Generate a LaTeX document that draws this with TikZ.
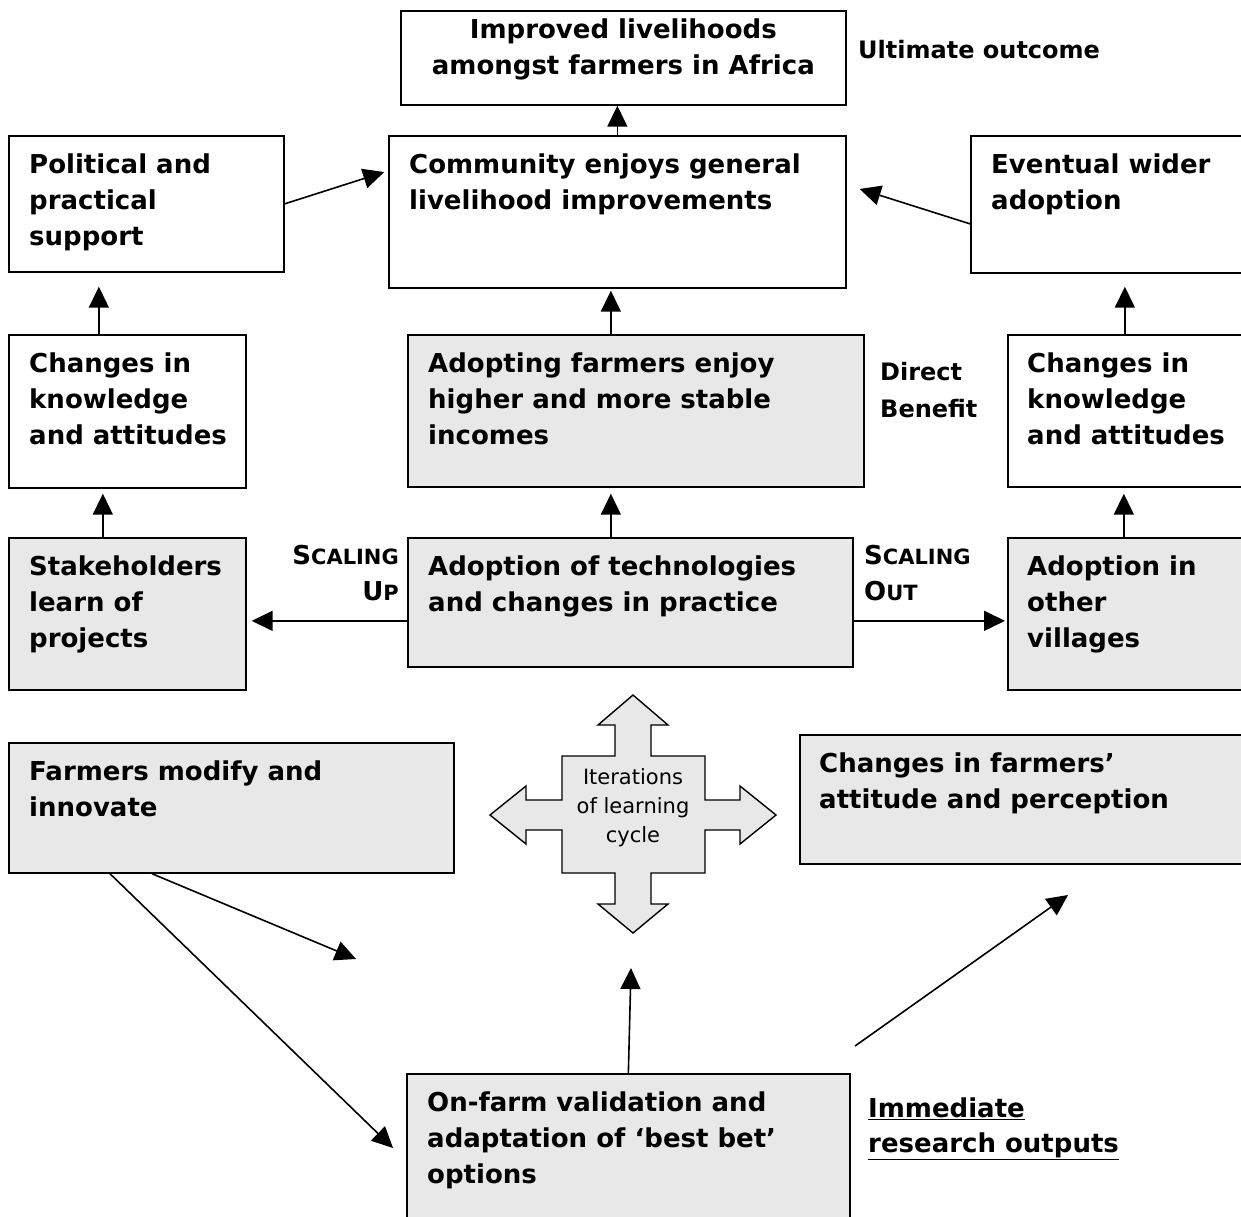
\documentclass[tikz,border=0pt]{standalone}
\usepackage{fontspec}
\setmainfont{DejaVu Sans}
\usetikzlibrary{arrows.meta}
\definecolor{boxgray}{RGB}{232,232,232}
\newcommand\capsmall[2]{#1{\fontsize{21}{36}\selectfont#2}}

\begin{document}
\begin{tikzpicture}[
	x = 1pt, y = -1pt,
	box/.style = {draw, line width=1.7pt, anchor=north west, inner sep=0pt},
	grey box/.style = {box, fill=boxgray},
	txt/.style = {anchor=north west, align=left, inner xsep=21pt, inner ysep=18.3pt,
		font=\fontsize{26}{36}\selectfont\bfseries, execute at begin node=\strut},
	note/.style = {anchor=north west, align=left, inner sep=0pt,
		font=\fontsize{24}{37}\selectfont\bfseries, execute at begin node=\strut},
	arr/.style = {-{Triangle[length=21pt, width=20pt]}, line width=1.6pt}
	]
	\path[use as bounding box, fill=white] (0,0) rectangle (1241,1216);
	\clip (0,0) rectangle (1241,1216);

	\node[box, minimum width=445pt, minimum height=94pt] (top) at (400,10) {};
	\node[txt, anchor=north, align=center, inner ysep=9pt] (top-txt) at (top.north)
		{Improved livelihoods\\amongst farmers in Africa};
	\node[note] (ult) at (858,32) {Ultimate outcome};

	\node[box, minimum width=275pt, minimum height=136pt] (pol) at (8,135) {};
	\node[txt] (pol-txt) at (pol.north west) {Political and\\practical\\support};
	\node[box, minimum width=457pt, minimum height=152pt] (comm) at (388,135) {};
	\node[txt] (comm-txt) at (comm.north west) {Community enjoys general\\livelihood improvements};
	\node[box, minimum width=280pt, minimum height=137pt] (ev) at (970,135) {};
	\node[txt] (ev-txt) at (ev.north west) {Eventual wider\\adoption};

	\node[box, minimum width=237pt, minimum height=153pt] (chgl) at (8,334) {};
	\node[txt] (chgl-txt) at (chgl.north west) {Changes in\\knowledge\\and attitudes};
	\node[grey box, minimum width=456pt, minimum height=152pt] (adopt) at (407,334) {};
	\node[txt] (adopt-txt) at (adopt.north west) {Adopting farmers enjoy\\higher and more stable\\incomes};
	\node[note] (direct) at (880,362) {Direct\\Benefit};
	\node[box, minimum width=243pt, minimum height=152pt] (chgr) at (1007,334) {};
	\node[txt, inner xsep=20pt] (chgr-txt) at (chgr.north west) {Changes in\\knowledge\\and attitudes};

	\node[grey box, minimum width=237pt, minimum height=152pt] (stake) at (8,537) {};
	\node[txt] (stake-txt) at (stake.north west) {Stakeholders\\learn of\\projects};
	\node[grey box, minimum width=445pt, minimum height=129pt] (adtech) at (407,537) {};
	\node[txt] (adtech-txt) at (adtech.north west) {Adoption of technologies\\and changes in practice};
	\node[grey box, minimum width=243pt, minimum height=152pt] (adoth) at (1007,537) {};
	\node[txt, inner xsep=20pt] (adoth-txt) at (adoth.north west) {Adoption in\\other\\villages};
	\node[note, align=right, anchor=north east, font=\fontsize{26}{36}\selectfont\bfseries] (scup)
		at (399,545) {\capsmall{S}{CALING}\\\capsmall{U}{P}};
	\node[note, font=\fontsize{26}{36}\selectfont\bfseries] (scout)
		at (864,545) {\capsmall{S}{CALING}\\\capsmall{O}{UT}};

	\node[grey box, minimum width=445pt, minimum height=130pt] (farm) at (8,742) {};
	\node[txt] (farm-txt) at (farm.north west) {Farmers modify and\\innovate};
	\node[grey box, minimum width=451pt, minimum height=129pt] (chgf) at (799,734) {};
	\node[txt, inner xsep=20pt] (chgf-txt) at (chgf.north west) {Changes in farmers’\\attitude and perception};

	\draw[fill=boxgray, line width=1.4pt] (633,695) -- (668,725) -- (651,725) -- (651,756)
		-- (705,756) -- (705,800) -- (740,800) -- (740,786) -- (776,815) -- (740,844)
		-- (740,830) -- (705,830) -- (705,873) -- (651,873) -- (651,904) -- (668,904)
		-- (633,933) -- (598,904) -- (615,904) -- (615,873) -- (562,873) -- (562,830)
		-- (526,830) -- (526,844) -- (490,815) -- (526,786) -- (526,800) -- (562,800)
		-- (562,756) -- (615,756) -- (615,725) -- (598,725) -- cycle;
	\node[align=center, font=\fontsize{21}{29}\selectfont] (iter) at (633,808)
		{Iterations\\of learning\\cycle};

	\node[grey box, minimum width=443pt, minimum height=157pt] (onfarm) at (406,1073) {};
	\node[txt] (onfarm-txt) at (onfarm.north west) {On-farm validation and\\adaptation of ‘best bet’\\options};
	\node[note, font=\fontsize{26}{35}\selectfont\bfseries] (imm) at (868,1097.5)
		{\underline{Immediate}\\\underline{research outputs}};

	\coordinate (tipA) at (393,1148);
	\coordinate (tipB) at (356,959);
	\coordinate (tipC) at (631,968);
	\coordinate (tailD) at (855,1046);
	\coordinate (tipD) at (1068,895);

	\draw[arr] (comm.north) -- (comm.north |- top.south);
	\draw[arr, shorten >=4pt] (pol.east) -- ([yshift=41pt]comm.west);
	\draw[arr, shorten >=13.6pt] ([yshift=-19.5pt]ev.west) -- ([yshift=27pt]comm.east);
	\draw[arr, shorten >=14pt] ([xshift=-28.5pt]chgl.north) -- ([xshift=-47.5pt]pol.south);
	\draw[arr, shorten >=2pt] ([xshift=-25pt]adopt.north) -- ([xshift=-6.5pt]comm.south);
	\draw[arr, shorten >=13pt] ([xshift=-4.5pt]chgr.north) -- ([xshift=14pt]ev.south);
	\draw[arr, shorten >=5pt] ([xshift=-24.5pt]stake.north) -- ([xshift=-24.5pt]chgl.south);
	\draw[arr, shorten >=6pt] ([xshift=-19.5pt]adtech.north) -- ([xshift=-25pt]adopt.south);
	\draw[arr, shorten >=6pt] ([xshift=-5.5pt]adoth.north) -- ([xshift=-5.5pt]chgr.south);
	\draw[arr, shorten >=5pt] ([yshift=-18.5pt]adtech.west) -- ([yshift=-7pt]stake.east);
	\draw[arr, shorten >=2pt] ([yshift=-18.5pt]adtech.east) -- ([yshift=-7pt]adoth.west);
	\draw[arr] ([xshift=102pt]farm.south west) -- (tipA);
	\draw[arr] ([xshift=144pt]farm.south west) -- (tipB);
	\draw[arr] (onfarm.north) -- (tipC);
	\draw[arr] (tailD) -- (tipD);
\end{tikzpicture}
\end{document}
